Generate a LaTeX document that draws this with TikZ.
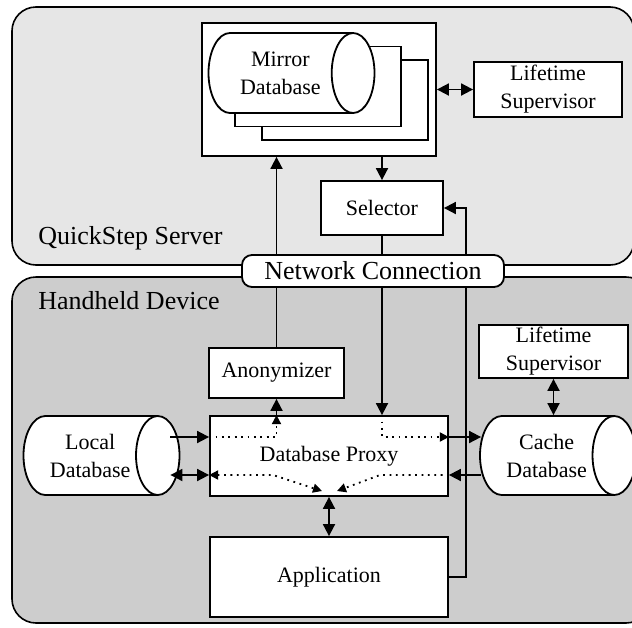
\documentclass[tikz,border=0pt]{standalone}
\usepackage{fontspec}
\setmainfont{Liberation Serif}
\usetikzlibrary{arrows.meta,positioning,calc,shapes.geometric}
\definecolor{serverFill}{HTML}{E6E6E6}
\definecolor{deviceFill}{HTML}{CDCDCD}
\tikzset{
  >={Triangle[length=6pt,width=6pt]},
  panel/.style={draw=black,line width=0.8pt,rounded corners=12pt},
  boxN/.style={draw=black,line width=0.9pt,fill=white,inner sep=0pt,
               font=\fontsize{11}{14}\selectfont,align=center},
  dbCyl/.style={cylinder,shape aspect=1,draw=black,line width=0.9pt,
               fill=white,inner sep=0pt,anchor=shape center,
               font=\fontsize{11}{14}\selectfont,align=center},
  netBox/.style={draw=black,line width=0.9pt,fill=white,rounded corners=5pt,
               inner sep=0pt,font=\fontsize{13}{15}\selectfont},
  flow/.style={->,line width=0.9pt},
  dflow/.style={<->,line width=0.9pt},
  dotflow/.style={>={Triangle[length=4.5pt,width=4.5pt]},line width=0.9pt,
               dash pattern=on 0.9pt off 2.3pt},
  panelLabel/.style={font=\fontsize{13}{15}\selectfont,anchor=west,inner sep=0pt},
}
\begin{document}
\begin{tikzpicture}[x=0.5pt,y=0.5pt]
\useasboundingbox (0,0) rectangle (632,-627);
\clip (0,0) rectangle (632,-627);

% Server and handheld panels
\draw[panel,fill=serverFill] (12,-7) rectangle (634,-265);
\draw[panel,fill=deviceFill] (12,-277) rectangle (650,-623);
\node[panelLabel] (serverLbl) at (38,-238) {QuickStep Server};
\node[panelLabel] (deviceLbl) at (38,-301) {Handheld Device};

% Server side (cylinder: minimum height runs along its axis)
\node[boxN,minimum width=117pt,minimum height=66.5pt] (mirrorBox) at (319,-89.5) {};
\node[dbCyl,minimum height=83pt,minimum width=40pt] (mirror3) at (345,-100) {};
\node[dbCyl,minimum height=83pt,minimum width=40pt] (mirror2) at (318,-86.5) {};
\node[dbCyl,minimum height=83pt,minimum width=40pt] (mirror) at (291.5,-73)
  {Mirror\\Database};
\node[boxN,minimum width=74pt,minimum height=27.5pt] (lsTop) at (548,-89.5)
  {Lifetime\\Supervisor};
\node[boxN,minimum width=61pt,minimum height=27pt] (selector) at (382,-208) {Selector};

% Handheld side
\node[boxN,minimum width=67.5pt,minimum height=25pt] (anon) at (276.5,-373) {Anonymizer};
\node[boxN,minimum width=74.5pt,minimum height=26.5pt] (lsBot) at (553.5,-351.5)
  {Lifetime\\Supervisor};
\node[boxN,minimum width=119pt,minimum height=40pt] (proxy) at (329,-456) {Database Proxy};
\node[boxN,minimum width=119pt,minimum height=40pt] (app) at (329,-577) {Application};
\node[dbCyl,minimum height=78pt,minimum width=39.5pt] (local) at (101.5,-455.5)
  {Local\\Database};
\node[dbCyl,minimum height=78pt,minimum width=39.5pt] (cache) at (558,-455.5)
  {Cache\\Database};

\coordinate (rowA) at (0,-437);
\coordinate (rowB) at (0,-475);
\coordinate (bendL) at (273,-475);
\coordinate (bendR) at (380,-475);
\coordinate (meetL) at (322,-491);
\coordinate (meetR) at (337,-491);

% Solid connectors
\draw[dflow] (mirrorBox.east) -- (lsTop.west);
\draw[flow] (mirrorBox.south -| selector) -- (selector.north);
\draw[flow] (anon.north) -- (anon.north |- mirrorBox.south);
\draw[flow] (selector.south) -- (selector.south |- proxy.north);
\draw[flow] (anon.south |- proxy.north) -- (anon.south);
\draw[flow] ($(local.east |- rowA)+(-10,0)$) -- (proxy.west |- rowA);
\draw[dflow] ($(local.east |- rowB)+(-10,0)$) -- (proxy.west |- rowB);
\draw[flow] (proxy.east |- rowA) -- ($(cache.west |- rowA)+(2,0)$);
\draw[flow] ($(cache.west |- rowB)+(2,0)$) -- (proxy.east |- rowB);
\draw[dflow] (proxy.south) -- (app.north);
\draw[dflow] (lsBot.south) -- (lsBot.south |- cache.north);
\draw[flow] (app.east) -| ($(selector.east)+(22,0)$) -- (selector.east);

% Dotted routes through the proxy
\draw[dotflow,->] (proxy.west |- rowA) -| (anon.south |- proxy.north);
\draw[dotflow,->] (selector.south |- proxy.north) |- (proxy.east |- rowA);
\draw[dotflow,<->] (proxy.west |- rowB) -- (bendL) -- (meetL);
\draw[dotflow,->] (proxy.east |- rowB) -- (bendR) -- (meetR);

\node[netBox,minimum width=131pt,minimum height=16pt] (net) at (373,-271)
  {Network Connection};

\end{tikzpicture}
\end{document}
